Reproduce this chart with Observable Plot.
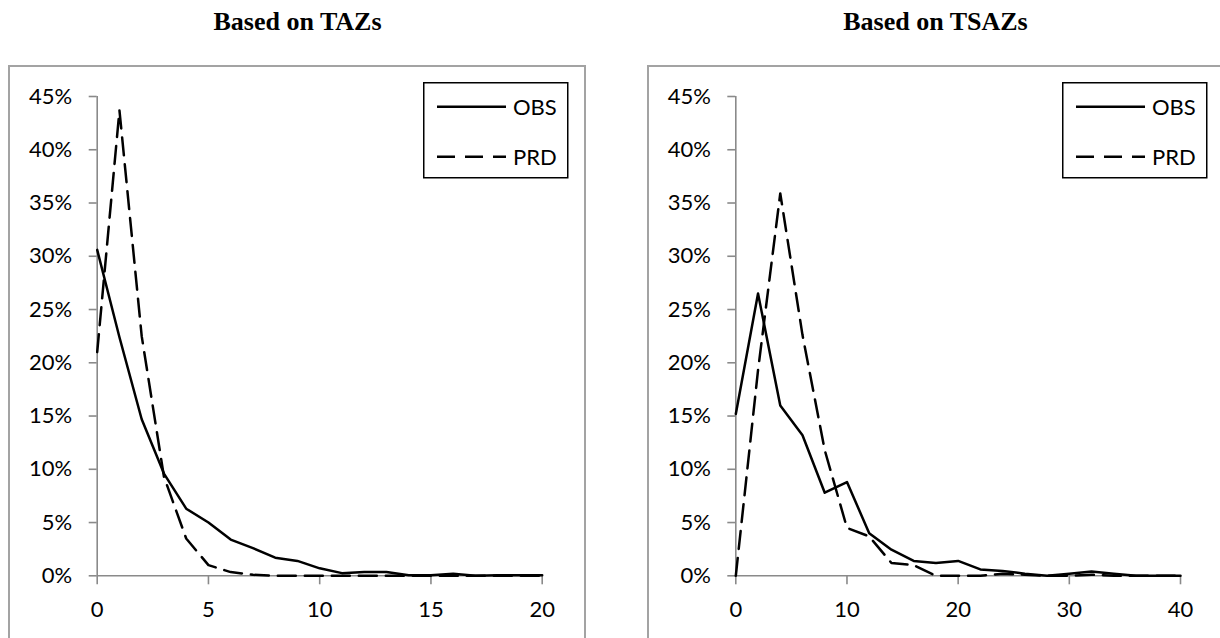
<!DOCTYPE html>
<html>
<head>
<meta charset="utf-8">
<script src="https://cdn.jsdelivr.net/npm/d3@7"></script>
<script src="https://cdn.jsdelivr.net/npm/@observablehq/plot@0.6"></script>
<style>
  html, body { margin: 0; padding: 0; background: white; }
  #root { position: relative; width: 1220px; height: 638px; overflow: hidden; background: white; }
  .title { position: absolute; width: 500px; text-align: center; font-family: "Liberation Serif", "Times New Roman", serif; font-weight: bold; font-size: 26px; color: black; }
  .box { position: absolute; border: 2px solid #a3a3a3; box-sizing: border-box; }
  .plotwrap { position: absolute; }
  .legend { position: absolute; overflow: visible; }
</style>
</head>
<body>
<div id="root"></div>
<script>
// ---- data (values in percent) ----
const seriesNames = ["OBS", "PRD"];
const panelTitles = ["Based on TAZs", "Based on TSAZs"];
const yTicks = [0, 5, 10, 15, 20, 25, 30, 35, 40, 45];

const tazX = [0, 1, 2, 3, 4, 5, 6, 7, 8, 9, 10, 11, 12, 13, 14, 15, 16, 17, 18, 19, 20];
const tazObs = [30.6, 22.4, 14.7, 9.6, 6.3, 5.0, 3.4, 2.6, 1.7, 1.4, 0.7, 0.25, 0.35, 0.35, 0.05, 0.05, 0.2, 0.0, 0.05, 0.05, 0.05];
const tazPrd = [21.0, 43.7, 22.5, 9.3, 3.5, 1.0, 0.35, 0.1, 0.0, 0.0, 0.0, 0.0, 0.0, 0.0, 0.0, 0.0, 0.0, 0.0, 0.0, 0.0, 0.0];
const tazXTicks = [0, 5, 10, 15, 20];

const tsazX = [0, 2, 4, 6, 8, 10, 12, 14, 16, 18, 20, 22, 24, 26, 28, 30, 32, 34, 36, 38, 40];
const tsazObs = [15.2, 26.5, 16.0, 13.2, 7.8, 8.8, 4.0, 2.45, 1.4, 1.2, 1.4, 0.6, 0.45, 0.2, 0.0, 0.2, 0.4, 0.2, 0.0, 0.0, 0.0];
const tsazPrd = [0.0, 19.3, 35.9, 22.6, 11.8, 4.5, 3.7, 1.2, 1.0, 0.0, 0.0, 0.0, 0.2, 0.1, 0.0, 0.0, 0.1, 0.0, 0.0, 0.0, 0.0];
const tsazXTicks = [0, 10, 20, 30, 40];

const AXIS = "#8a8a8a";
const DASH = "18,9";
const root = document.getElementById("root");

function makePanel(opt) {
  const { left, title, xs, obs, prd, xTicks, xMax, marginLeft, marginRight, width } = opt;
  const boxW = width + 1;
  // title
  const t = document.createElement("div");
  t.className = "title";
  t.style.left = (left + boxW / 2 - 250) + "px";
  t.style.top = "7px";
  t.textContent = title;
  root.appendChild(t);
  // outer chart box
  const b = document.createElement("div");
  b.className = "box";
  b.style.left = (left - 1) + "px";
  b.style.top = "65px";
  b.style.width = (boxW + 1) + "px";
  b.style.height = "600px";
  root.appendChild(b);

  const rows = [];
  xs.forEach((x, i) => rows.push({ x, v: obs[i], s: seriesNames[0] }));
  xs.forEach((x, i) => rows.push({ x, v: prd[i], s: seriesNames[1] }));

  const chart = Plot.plot({
    width, height: 572,
    marginLeft, marginRight, marginTop: 30, marginBottom: 62.7,
    style: { fontFamily: "Lato, 'Open Sans', sans-serif", fontSize: "22px", background: "transparent", color: "black", overflow: "visible" },
    x: { domain: [0, xMax], ticks: xTicks },
    y: { domain: [0, 45], ticks: yTicks },
    marks: [
      Plot.axisY({ ticks: yTicks, tickSize: 8, tickPadding: 17, stroke: AXIS, strokeWidth: 1.6, fill: "black", tickFormat: d => d + "%", label: null }),
      Plot.axisX({ ticks: xTicks, tickSize: 9, tickPadding: 17, stroke: AXIS, strokeWidth: 1.6, fill: "black", tickFormat: d => String(d), label: null }),
      Plot.ruleX([0], { y1: 0, y2: 45, stroke: AXIS, strokeWidth: 1.6 }),
      Plot.ruleY([0], { x1: 0, x2: xMax, stroke: AXIS, strokeWidth: 1.6 }),
      Plot.line(rows.filter(d => d.s === "PRD"), { x: "x", y: "v", stroke: "black", strokeWidth: 2.5, strokeDasharray: DASH, strokeLinejoin: "round" }),
      Plot.line(rows.filter(d => d.s === "OBS"), { x: "x", y: "v", stroke: "black", strokeWidth: 2.5, strokeLinejoin: "round" })
    ]
  });
  const w = document.createElement("div");
  w.className = "plotwrap";
  w.style.left = left + "px";
  w.style.top = "66px";
  w.style.width = width + "px";
  w.appendChild(chart);
  root.appendChild(w);

  // legend
  const lx = left + 414, ly = 82;
  const ns = "http://www.w3.org/2000/svg";
  const svg = document.createElementNS(ns, "svg");
  svg.setAttribute("class", "legend");
  svg.setAttribute("width", 150);
  svg.setAttribute("height", 100);
  svg.style.left = lx + "px";
  svg.style.top = ly + "px";
  const rect = document.createElementNS(ns, "rect");
  rect.setAttribute("x", 0.75); rect.setAttribute("y", 0.75);
  rect.setAttribute("width", 144); rect.setAttribute("height", 95);
  rect.setAttribute("fill", "white"); rect.setAttribute("stroke", "black"); rect.setAttribute("stroke-width", 1.5);
  svg.appendChild(rect);
  seriesNames.forEach((name, i) => {
    const y = 24.7 + i * 50;
    const ln = document.createElementNS(ns, "line");
    ln.setAttribute("x1", 14); ln.setAttribute("x2", 83);
    ln.setAttribute("y1", y); ln.setAttribute("y2", y);
    ln.setAttribute("stroke", "black"); ln.setAttribute("stroke-width", 2.5);
    if (i === 1) ln.setAttribute("stroke-dasharray", "18,10");
    svg.appendChild(ln);
    const tx = document.createElementNS(ns, "text");
    tx.setAttribute("x", 90); tx.setAttribute("y", y + 8);
    tx.setAttribute("font-family", "Lato, 'Open Sans', sans-serif");
    tx.setAttribute("font-size", "22px");
    tx.setAttribute("fill", "black");
    tx.textContent = name;
    svg.appendChild(tx);
  });
  root.appendChild(svg);
}

makePanel({ left: 9, title: panelTitles[0], xs: tazX, obs: tazObs, prd: tazPrd, xTicks: tazXTicks, xMax: 20, marginLeft: 87.7, marginRight: 43.3, width: 576 });
makePanel({ left: 648, title: panelTitles[1], xs: tsazX, obs: tsazObs, prd: tsazPrd, xTicks: tsazXTicks, xMax: 40, marginLeft: 87.3, marginRight: 42, width: 574 });
</script>
</body>
</html>
